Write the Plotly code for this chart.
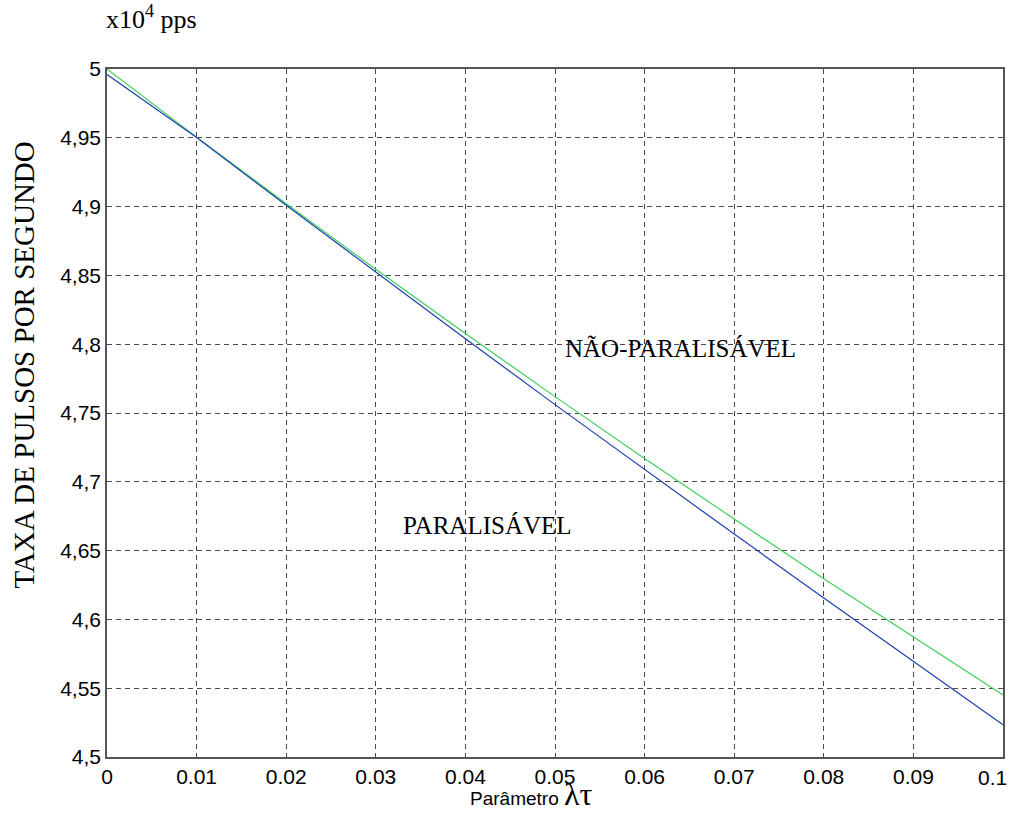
import plotly.graph_objects as go

# Parameter lambda*tau
lt = [0.0, 0.01, 0.02, 0.03, 0.04, 0.05, 0.06, 0.07, 0.08, 0.09, 0.1]

# Measured rate (x10^4 pulses per second)
paralisavel = [4.996, 4.9502, 4.9010, 4.8522, 4.8039, 4.7561, 4.7088, 4.6620, 4.6156, 4.5696, 4.5235]
nao_paralisavel = [5.0, 4.9505, 4.9020, 4.8544, 4.8077, 4.7619, 4.7170, 4.6729, 4.6296, 4.5872, 4.5450]

x_ticks = [0, 0.01, 0.02, 0.03, 0.04, 0.05, 0.06, 0.07, 0.08, 0.09]
x_ticktext = ["0", "0.01", "0.02", "0.03", "0.04", "0.05", "0.06", "0.07", "0.08", "0.09"]
x_last_tick = "0.1"
y_ticks = [4.5, 4.55, 4.6, 4.65, 4.7, 4.75, 4.8, 4.85, 4.9, 4.95, 5.0]
y_ticktext = ["4,5", "4,55", "4,6", "4,65", "4,7", "4,75", "4,8", "4,85", "4,9", "4,95", "5"]

sans = "Liberation Sans, Arial"
serif = "Liberation Serif, Times New Roman"
tick_font = dict(family=sans, size=21, color="black")

fig = go.Figure()
fig.add_trace(go.Scatter(x=lt, y=nao_paralisavel, mode="lines",
                         line=dict(color="#3dcf5c", width=1.2), showlegend=False))
fig.add_trace(go.Scatter(x=lt, y=paralisavel, mode="lines",
                         line=dict(color="#1e3fae", width=1.2), showlegend=False))

axis_common = dict(showline=True, mirror=True, linecolor="#555555", linewidth=1.5,
                   showgrid=True, gridcolor="#4a4a4a", griddash="5px,4px", gridwidth=1,
                   zeroline=False, ticks="", tickfont=tick_font)

fig.update_xaxes(range=[0, 0.1], tickvals=x_ticks, ticktext=x_ticktext, **axis_common)
fig.update_yaxes(range=[4.5, 5.0000001], tickvals=y_ticks, ticktext=y_ticktext, **axis_common)

# last x tick label, pulled in slightly so it stays inside the page
fig.add_annotation(x=0.0988, y=-0.03, yref="paper", yanchor="middle", xanchor="center",
                   text=x_last_tick, showarrow=False, font=tick_font)

fig.add_annotation(x=0.0640, y=4.797, text="NÃO-PARALISÁVEL", showarrow=False,
                   font=dict(family=serif, size=25, color="black"))
fig.add_annotation(x=0.0425, y=4.6686, text="PARALISÁVEL", showarrow=False,
                   font=dict(family=serif, size=25, color="black"))
fig.add_annotation(xref="paper", yref="paper", x=-0.093, y=0.57, xanchor="center",
                   text="TAXA DE PULSOS POR SEGUNDO",
                   textangle=-90, showarrow=False, font=dict(family=serif, size=29, color="black"))
fig.add_annotation(xref="paper", yref="paper", x=0.0496, y=1.075, xanchor="center", yanchor="middle",
                   text="x10<sup>4</sup> pps", showarrow=False,
                   font=dict(family=serif, size=26, color="black"))
fig.add_annotation(xref="paper", yref="paper", x=0.474, y=-0.0814, xanchor="center", yanchor="bottom",
                   text="Parâmetro <span style='font-family:Liberation Serif, Times New Roman;"
                        "font-size:32px'>λτ</span>",
                   showarrow=False, borderpad=0, font=dict(family=sans, size=19, color="black"))

fig.update_layout(width=1016, height=813, margin=dict(l=107, r=11, t=69, b=56),
                  plot_bgcolor="white", paper_bgcolor="white")

fig.write_html("out.html")
